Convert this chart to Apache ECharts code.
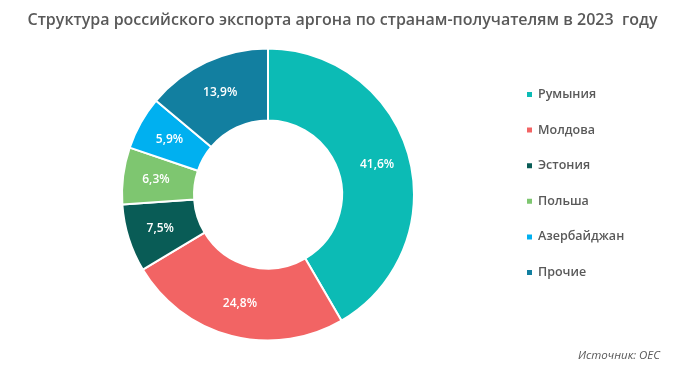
<!DOCTYPE html>
<html><head><meta charset="utf-8">
<script src="https://cdn.jsdelivr.net/npm/echarts@6/dist/echarts.min.js"></script>
<style>html,body{margin:0;padding:0;background:#fff}#c{width:685px;height:371px}</style>
</head><body><div id="c"></div>
<script>
const categories = ['Румыния','Молдова','Эстония','Польша','Азербайджан','Прочие'];
const values = [41.6, 24.8, 7.5, 6.3, 5.9, 13.9];
const colors = ['#0cbbb5','#f26464','#095c56','#7ec670','#00b0f0','#127fa0'];
const titleText = 'Структура российского экспорта аргона по странам-получателям в 2023  году';
const sourceText = 'Источник: OEC';

const chart = echarts.init(document.getElementById('c'), null, {renderer:'canvas'});
chart.setOption({
  animation:false,
  backgroundColor:'#fff',
  title:[{
    text:titleText, left:'center', top:7,
    textStyle:{fontFamily:'Open Sans',fontSize:16,fontWeight:600,color:'#595959'}
  },{
    text:sourceText, right:20, top:345,
    textStyle:{fontFamily:'Open Sans',fontSize:11.5,fontStyle:'italic',fontWeight:'normal',color:'#595959'}
  }],
  legend:{
    orient:'vertical', left:520, top:83, itemGap:22.6,
    icon:'rect', itemWidth:7, itemHeight:7,
    textStyle:{fontFamily:'Open Sans',fontSize:12.5,fontWeight:600,color:'#595959'},
    data:categories
  },
  series:[{
    type:'pie', center:[268,194.5], radius:[74,146],
    startAngle:90, clockwise:true,
    itemStyle:{borderColor:'#fff',borderWidth:2},
    label:{show:true,position:'inside',color:'#fff',fontFamily:'Open Sans',fontSize:12,fontWeight:600,
      formatter:p=>String(p.value.toFixed(1)).replace('.',',')+'%'},
    labelLine:{show:false},
    data:categories.map((c,i)=>({name:c,value:values[i],itemStyle:{color:colors[i]}}))
  }]
});
</script></body></html>
